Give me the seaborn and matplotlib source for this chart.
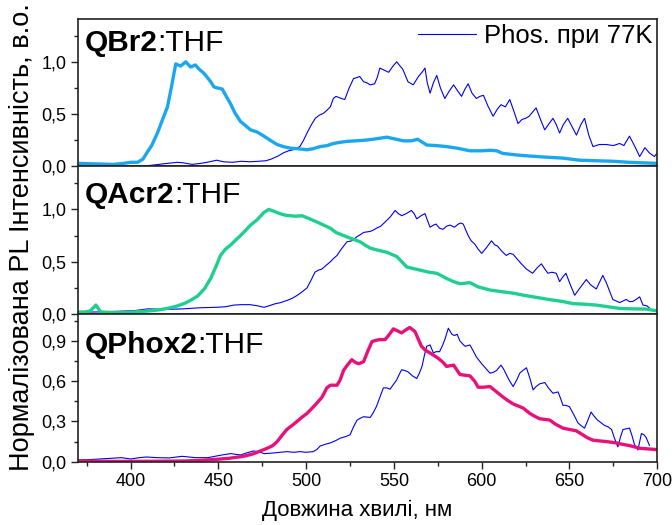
import numpy as np
import pandas as pd
import matplotlib
matplotlib.use("Agg")
import matplotlib.pyplot as plt
import seaborn as sns
from matplotlib.ticker import MultipleLocator, FuncFormatter

# ---------------- data ----------------
qbr2_wl = [370, 380, 390, 396, 400, 404, 407, 409.6, 412, 415.3, 418, 421, 423.5, 425.7, 428.5, 431.4,
           434.2, 436.9, 439, 441.8, 445.6, 447.5, 449.4, 452.2, 454.5, 456.9, 459.5, 462.6, 465.5, 468.3,
           472, 475, 477.8, 480.5, 483.5, 487, 491, 495, 500.5, 504, 508, 512, 515.6, 519, 523.2, 528,
           532.7, 538, 542, 546, 550, 555.4, 560, 563.5, 565, 568.7, 574, 580, 586, 593.3, 600, 605,
           608.5, 612, 620, 627.4, 636, 646.3, 651, 655.8, 665, 674.7, 684, 692, 700]
qbr2_pl = [0.03, 0.025, 0.02, 0.03, 0.04, 0.04, 0.07, 0.14, 0.2, 0.32, 0.44, 0.57, 0.78, 0.98, 0.96, 1.0,
           0.95, 0.97, 0.93, 0.89, 0.81, 0.76, 0.75, 0.74, 0.67, 0.60, 0.51, 0.43, 0.39, 0.35,
           0.33, 0.30, 0.27, 0.24, 0.21, 0.19, 0.175, 0.17, 0.16, 0.17, 0.19, 0.20, 0.22, 0.23, 0.24, 0.245,
           0.25, 0.26, 0.27, 0.28, 0.265, 0.245, 0.245, 0.26, 0.245, 0.205, 0.20, 0.19, 0.175, 0.15, 0.15, 0.155,
           0.15, 0.125, 0.11, 0.10, 0.09, 0.08, 0.07, 0.06, 0.055, 0.05, 0.04, 0.035, 0.03]

phos1_wl = [372, 385, 398, 405, 411, 416, 421, 426.6, 430, 435, 440, 445, 449, 453, 458, 463, 468, 473, 477,
            480, 484, 487, 490, 492.6, 496.4, 498.5, 500.5, 503, 505.2, 507.5, 510, 512, 513.8, 515.5, 517,
            518.5, 520, 522, 524.5, 527, 529, 530.5, 532.7, 534.5, 536.5, 539, 540.5, 542, 544.5, 547, 549.5,
            551.6, 553, 555, 556.5, 558, 561, 564, 566, 567.7, 569, 570.6, 572.5, 574.4, 576.5, 579, 581.5,
            584, 586, 588.5, 590.5, 592.3, 594.5, 597, 599, 601, 603.5, 606.5, 609, 611, 613.5, 616, 618.5,
            620.7, 623, 625, 627, 629, 631, 633.5, 635.9, 638, 640.6, 642.5, 644.4, 646.5, 649, 651.5, 654,
            656.5, 658.6, 661, 663.4, 667, 671, 675, 678.6, 681, 684.2, 687, 690, 693, 695.5, 698.4, 700]
phos1_pl = [0.005, 0.005, 0.0, 0.005, 0.01, 0.02, 0.03, 0.04, 0.035, 0.02, 0.03, 0.045, 0.06, 0.045, 0.04, 0.05,
            0.045, 0.05, 0.055, 0.07, 0.10, 0.13, 0.15, 0.16, 0.19, 0.25, 0.32, 0.40, 0.46, 0.49, 0.51, 0.54,
            0.57, 0.65, 0.67, 0.66, 0.65, 0.64, 0.75, 0.84, 0.85, 0.86, 0.81, 0.80, 0.78, 0.79, 0.85, 0.94,
            0.92, 0.90, 0.96, 1.0, 0.97, 0.93, 0.87, 0.81, 0.78, 0.86, 0.90, 0.94, 0.80, 0.70, 0.80, 0.87,
            0.75, 0.65, 0.72, 0.78, 0.73, 0.67, 0.74, 0.79, 0.70, 0.65, 0.67, 0.68, 0.58, 0.48, 0.55, 0.59,
            0.57, 0.64, 0.52, 0.41, 0.45, 0.46, 0.48, 0.52, 0.56, 0.45, 0.35, 0.40, 0.46, 0.40, 0.32, 0.40,
            0.46, 0.38, 0.30, 0.40, 0.46, 0.30, 0.19, 0.21, 0.21, 0.20, 0.22, 0.20, 0.29, 0.20, 0.095, 0.18,
            0.13, 0.095, 0.13]

qacr2_wl = [370.4, 374, 377, 380.2, 383, 390, 396, 402, 410.4, 416, 421, 426, 430.4, 434, 438, 442, 445.6,
            448.5, 451.2, 454, 457, 460, 462.6, 465.5, 468.3, 472, 475.9, 478.7, 482, 485, 488, 491, 494,
            497.6, 502, 506.1, 510, 513.8, 517, 521.3, 526, 530.8, 533.5, 536.5, 541, 546, 551.6, 554.5,
            557.3, 561, 564.9, 570, 574.4, 580, 584, 587.6, 593.3, 598, 604.7, 611, 617.9, 624, 631, 638,
            646.3, 651.9, 658, 665.3, 672, 678.6, 686, 693.7, 700]
qacr2_pl = [0.02, 0.02, 0.03, 0.086, 0.02, 0.015, 0.015, 0.02, 0.03, 0.04, 0.054, 0.075, 0.10, 0.13, 0.17, 0.24,
            0.34, 0.45, 0.56, 0.62, 0.66, 0.71, 0.75, 0.80, 0.85, 0.90, 0.97, 1.0, 0.98, 0.96, 0.945, 0.94,
            0.935, 0.94, 0.91, 0.88, 0.85, 0.82, 0.78, 0.75, 0.72, 0.69, 0.66, 0.63, 0.61, 0.59, 0.55, 0.50,
            0.45, 0.435, 0.42, 0.40, 0.39, 0.34, 0.31, 0.29, 0.30, 0.26, 0.23, 0.215, 0.20, 0.18, 0.16, 0.14,
            0.12, 0.10, 0.095, 0.086, 0.07, 0.054, 0.05, 0.048, 0.03]

phos2_wl = [370, 380, 390, 402, 410, 420, 430, 439, 449, 454, 458.8, 463, 468, 472, 476, 479, 482, 485.5, 489,
            492, 495, 497.5, 500.5, 503, 505, 507, 508.9, 511, 513.8, 515.5, 517.6, 520, 523.2, 526, 529, 531,
            532.7, 536.5, 538, 540, 542.5, 545, 548, 550.7, 552.5, 554.5, 557, 560, 561.5, 563, 565.5, 567.7,
            569, 570.6, 572.5, 574, 576, 578, 580, 582, 584.5, 586.7, 588, 589.5, 591, 592.3, 594, 596, 598,
            600, 602.5, 605.6, 607.5, 609, 611.5, 614, 616, 618, 620, 622.6, 625.5, 629, 631.5, 634, 636,
            637.7, 640, 642.5, 644.4, 646, 648, 650.5, 653, 656, 659.6, 662, 665.3, 667, 669, 671, 674.7,
            678.6, 682.4, 684, 686, 688, 690, 691.9, 694, 695.5]
phos2_pl = [0.02, 0.02, 0.025, 0.033, 0.05, 0.045, 0.05, 0.06, 0.065, 0.07, 0.086, 0.09, 0.09, 0.08, 0.065, 0.08,
            0.097, 0.11, 0.13, 0.15, 0.18, 0.21, 0.25, 0.33, 0.40, 0.42, 0.43, 0.46, 0.50, 0.53, 0.56, 0.62,
            0.69, 0.70, 0.74, 0.76, 0.78, 0.79, 0.80, 0.82, 0.84, 0.88, 0.93, 0.99, 0.96, 0.94, 0.96, 0.99,
            0.96, 0.91, 0.94, 0.96, 0.90, 0.83, 0.85, 0.86, 0.82, 0.81, 0.84, 0.85, 0.83, 0.86, 0.87, 0.86,
            0.80, 0.75, 0.70, 0.67, 0.62, 0.58, 0.63, 0.70, 0.66, 0.65, 0.60, 0.56, 0.58, 0.57, 0.53, 0.48,
            0.43, 0.39, 0.44, 0.48, 0.43, 0.39, 0.40, 0.39, 0.31, 0.35, 0.39, 0.28, 0.18, 0.25, 0.33, 0.28,
            0.24, 0.30, 0.37, 0.30, 0.14, 0.11, 0.14, 0.12, 0.12, 0.14, 0.165, 0.086, 0.08, 0.06]

qphox2_wl = [370, 390, 410, 430, 440, 449.4, 456, 462.6, 466, 470.2, 474, 477.8, 481, 483.5, 486.5, 489, 492,
             494.8, 497.5, 500.5, 503.5, 506, 509, 511.8, 513.8, 517.6, 519.4, 521.3, 523.5, 526, 528, 530,
             532.7, 535, 537.5, 540, 542, 545, 547.5, 549.7, 552, 554.4, 556.5, 559, 562, 564, 565.7, 568,
             570.6, 573, 575.3, 578, 580, 584, 587.6, 590, 593.3, 596, 598, 601, 604.7, 608.5, 612.3, 615,
             618, 623.6, 627.4, 630, 633, 638.8, 642, 646.3, 650, 653.9, 657.6, 660, 663.4, 667, 671, 676.7,
             680, 684.2, 690, 695, 700]
qphox2_pl = [0.005, 0.002, 0.003, 0.005, 0.01, 0.018, 0.025, 0.037, 0.045, 0.06, 0.08, 0.10, 0.12, 0.15, 0.20,
             0.24, 0.27, 0.30, 0.33, 0.36, 0.40, 0.435, 0.48, 0.55, 0.57, 0.57, 0.61, 0.68, 0.72, 0.76, 0.74,
             0.73, 0.745, 0.82, 0.895, 0.905, 0.91, 0.91, 0.95, 0.99, 0.975, 0.96, 0.98, 1.0, 0.97, 0.91, 0.86,
             0.83, 0.81, 0.79, 0.77, 0.74, 0.71, 0.72, 0.65, 0.645, 0.64, 0.60, 0.555, 0.555, 0.56, 0.52, 0.48,
             0.455, 0.43, 0.40, 0.36, 0.34, 0.32, 0.31, 0.28, 0.25, 0.24, 0.23, 0.20, 0.18, 0.16, 0.155, 0.15,
             0.14, 0.13, 0.12, 0.10, 0.095, 0.09]

phos3_wl = [370, 376, 382, 388, 394.8, 400, 405, 409, 415, 422, 429.3, 433, 437, 444, 448, 452, 457, 462.6, 466,
            470, 473, 476, 481.5, 485, 489, 493, 496.4, 500, 504, 506, 508, 511, 513.8, 516.5, 519.4, 522, 525,
            527, 529, 531, 532.7, 536.5, 538, 540, 542, 544, 546, 547.8, 550, 551.6, 553, 554.4, 556, 558,
            560.5, 563, 564.5, 566, 567.5, 568.7, 570.6, 572.5, 574, 576, 577.5, 579, 581, 583, 584.5, 586,
            587.6, 589, 590.5, 593.3, 595, 597, 600, 602, 604.7, 606.5, 608.5, 611, 612.5, 614, 616, 617.9,
            620, 621.7, 623.5, 625.5, 627.5, 629.3, 631, 633, 636, 638, 640.6, 643.5, 645, 646.3, 648, 650,
            652.5, 654.8, 656.5, 658.6, 660.5, 662.3, 664, 666, 668, 670, 672, 674, 675.5, 677.6, 679, 680.5,
            682.5, 684.2, 685.5, 687, 689, 690, 691, 692.5, 693.7, 695.6]
phos3_pl = [0.013, 0.015, 0.02, 0.025, 0.03, 0.02, 0.03, 0.035, 0.03, 0.028, 0.04, 0.035, 0.03, 0.03, 0.04, 0.05,
            0.06, 0.05, 0.065, 0.08, 0.075, 0.06, 0.065, 0.07, 0.075, 0.07, 0.075, 0.07, 0.075, 0.09, 0.117,
            0.13, 0.14, 0.155, 0.175, 0.185, 0.20, 0.26, 0.31, 0.325, 0.335, 0.33, 0.36, 0.41, 0.48, 0.55,
            0.55, 0.54, 0.58, 0.61, 0.65, 0.685, 0.68, 0.67, 0.64, 0.62, 0.66, 0.71, 0.80, 0.86, 0.87, 0.81,
            0.82, 0.82, 0.86, 0.91, 0.995, 0.95, 0.94, 0.95, 0.90, 0.88, 0.86, 0.87, 0.83, 0.78, 0.73, 0.70,
            0.66, 0.665, 0.68, 0.72, 0.69, 0.65, 0.60, 0.56, 0.61, 0.66, 0.68, 0.70, 0.62, 0.535, 0.56, 0.58,
            0.59, 0.55, 0.51, 0.52, 0.47, 0.42, 0.42, 0.41, 0.35, 0.29, 0.27, 0.25, 0.31, 0.37, 0.34, 0.31,
            0.29, 0.27, 0.26, 0.24, 0.18, 0.11, 0.18, 0.24, 0.245, 0.25, 0.20, 0.13, 0.087, 0.15, 0.21, 0.20,
            0.18, 0.12]

names_bold = ["QBr2", "QAcr2", "QPhox2"]
name_suffix = ":THF"
legend_label = "Phos. при 77K"
ylabel = "Нормалізована PL Інтенсивність, в.о."
xlabel = "Довжина хвилі, нм"
x_ticks = [400, 450, 500, 550, 600, 650, 700]

# ---------------- style ----------------
sns.set_style("ticks")
plt.rcParams['font.family'] = ['Liberation Sans', 'DejaVu Sans']
plt.rcParams['axes.linewidth'] = 1.2
plt.rcParams['axes.edgecolor'] = '#222222'
plt.rcParams['text.color'] = 'black'
plt.rcParams['xtick.color'] = '#222222'
plt.rcParams['ytick.color'] = '#222222'
plt.rcParams['xtick.labelcolor'] = 'black'
plt.rcParams['ytick.labelcolor'] = 'black'

fig = plt.figure(figsize=(6.72, 5.25), dpi=100)
gs = fig.add_gridspec(3, 1, left=0.116, right=0.978, bottom=0.1206, top=0.964, hspace=0)
axes = [fig.add_subplot(gs[i]) for i in range(3)]

main = [(qbr2_wl, qbr2_pl, "#1BA7EE"), (qacr2_wl, qacr2_pl, "#1ECF8E"), (qphox2_wl, qphox2_pl, "#E8117A")]
phos = [(phos1_wl, phos1_pl), (phos2_wl, phos2_pl), (phos3_wl, phos3_pl)]
ylims = [(0, 1.41), (0, 1.41), (0, 1.10)]
ymaj = [0.5, 0.5, 0.3]
title_y = [0.785, 0.75, 0.736]

comma = FuncFormatter(lambda v, p: f"{v:.1f}".replace('.', ','))

for i, ax in enumerate(axes):
    wl, pl, col = main[i]
    pw, pp = phos[i]
    sns.lineplot(x=pw, y=pp, ax=ax, color="#0000EE", linewidth=0.8, label=legend_label if i == 0 else None)
    sns.lineplot(x=wl, y=pl, ax=ax, color=col, linewidth=2.4)
    ax.set_xlim(370, 700)
    ax.set_ylim(*ylims[i])
    ax.yaxis.set_major_locator(MultipleLocator(ymaj[i]))
    ax.yaxis.set_minor_locator(MultipleLocator(ymaj[i] / 2))
    ax.yaxis.set_major_formatter(comma)
    ax.xaxis.set_major_locator(MultipleLocator(50))
    ax.xaxis.set_minor_locator(MultipleLocator(25))
    ax.tick_params(axis='both', which='major', direction='out', length=5, width=1, labelsize=13)
    ax.tick_params(axis='both', which='minor', direction='out', length=3, width=1)
    ax.set_xlabel("")
    ax.set_ylabel("")
    if i < 2:
        ax.tick_params(axis='x', which='both', bottom=False, labelbottom=False)
    else:
        ax.set_xticks(x_ticks)
    for s in ax.spines.values():
        s.set_visible(True)
    if i == 0:
        ax.legend(loc='upper right', bbox_to_anchor=(1.0, 1.0), frameon=False, fontsize=18.5,
                  handlelength=2.25, handletextpad=0.3, borderaxespad=0.0, borderpad=0.2)
    elif ax.get_legend() is not None:
        ax.get_legend().remove()

fig.canvas.draw()
for i, ax in enumerate(axes):
    t1 = ax.text(0.011, title_y[i], names_bold[i], transform=ax.transAxes, fontsize=21.5,
                 fontweight='bold', va='baseline', ha='left')
    fig.canvas.draw()
    bb = t1.get_window_extent()
    x2 = ax.transAxes.inverted().transform((bb.x1, bb.y0))[0]
    ax.text(x2, title_y[i], name_suffix, transform=ax.transAxes, fontsize=21.5,
            va='baseline', ha='left')

fig.text(0.032, 0.549, ylabel, rotation=90, ha='center', va='center', fontsize=19.5)
fig.text(0.532, 0.027, xlabel, ha='center', va='center', fontsize=16)

fig.savefig("out.png", dpi=100)
